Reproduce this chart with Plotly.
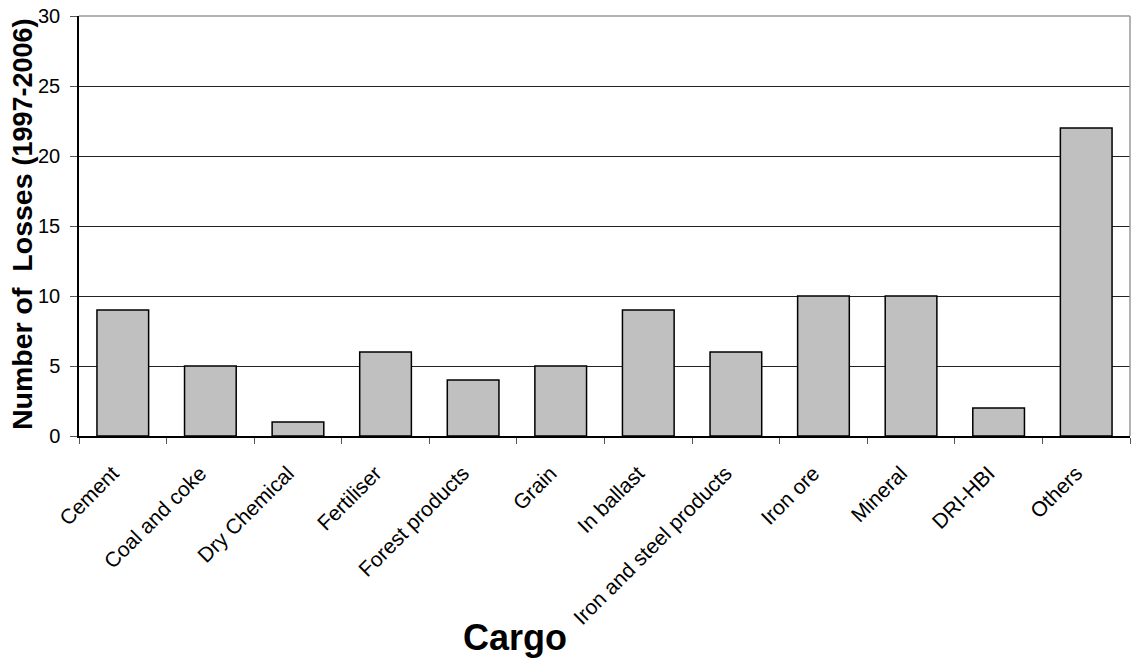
import plotly.graph_objects as go

categories = ["Cement", "Coal and coke", "Dry Chemical", "Fertiliser", "Forest products",
              "Grain", "In ballast", "Iron and steel products", "Iron ore", "Mineral",
              "DRI-HBI", "Others"]
losses = [9, 5, 1, 6, 4, 5, 9, 6, 10, 10, 2, 22]
y_ticks = [0, 5, 10, 15, 20, 25, 30]

FONT = "Liberation Sans, Arial, sans-serif"
W, H = 1131, 662
L, R, T, B = 79, 1, 16, 226

fig = go.Figure(go.Bar(
    x=categories, y=losses,
    marker=dict(color="#C0C0C0", line=dict(color="#000000", width=1.5)),
))

fig.update_layout(
    width=W, height=H,
    margin=dict(l=L, r=R, t=T, b=B, autoexpand=False),
    paper_bgcolor="white", plot_bgcolor="white",
    bargap=0.41, showlegend=False,
    font=dict(family=FONT, color="black"),
)
fig.update_xaxes(
    type="category", tickangle=-45, tickson="boundaries",
    ticks="outside", ticklen=6, tickcolor="#555", tickwidth=1,
    showline=True, linecolor="black", linewidth=1.5,
    tickfont=dict(size=21, family=FONT), ticklabelstandoff=15,
    ticklabelshift=-10,
    showgrid=False, automargin=False,
)
fig.update_yaxes(
    range=[0, 30], tickvals=y_ticks,
    ticks="outside", ticklen=7, tickcolor="#555", tickwidth=1,
    showline=True, linecolor="black", linewidth=1.5,
    showgrid=True, gridcolor="#222", gridwidth=1,
    zeroline=False, tickfont=dict(size=20, family=FONT),
    ticklabelstandoff=6, automargin=False,
)

# light frame on the top and right edges of the plot area
fig.add_shape(type="line", xref="paper", yref="paper", x0=0, x1=1, y0=1, y1=1,
              line=dict(color="#999", width=1.5), layer="above")
fig.add_shape(type="line", xref="paper", yref="paper", x0=1, x1=1, y0=0, y1=1,
              line=dict(color="#999", width=1.5), layer="above")

# axis titles
fig.add_annotation(
    text="<b>Number of  Losses <span style='font-size:27px'>(1997-2006)</span></b>",
    xref="paper", yref="paper",
    x=(22 - L) / (W - L - R), y=(H - B - 224) / (H - B - T),
    textangle=-90, showarrow=False, font=dict(size=28.5, family=FONT),
    xanchor="center", yanchor="middle",
)
fig.add_annotation(
    text="<b>Cargo</b>", xref="paper", yref="paper",
    x=(515 - L) / (W - L - R), y=-(637 - (H - B)) / (H - B - T),
    showarrow=False, font=dict(size=36, family=FONT),
    xanchor="center", yanchor="middle",
)

fig.write_html("out.html")
